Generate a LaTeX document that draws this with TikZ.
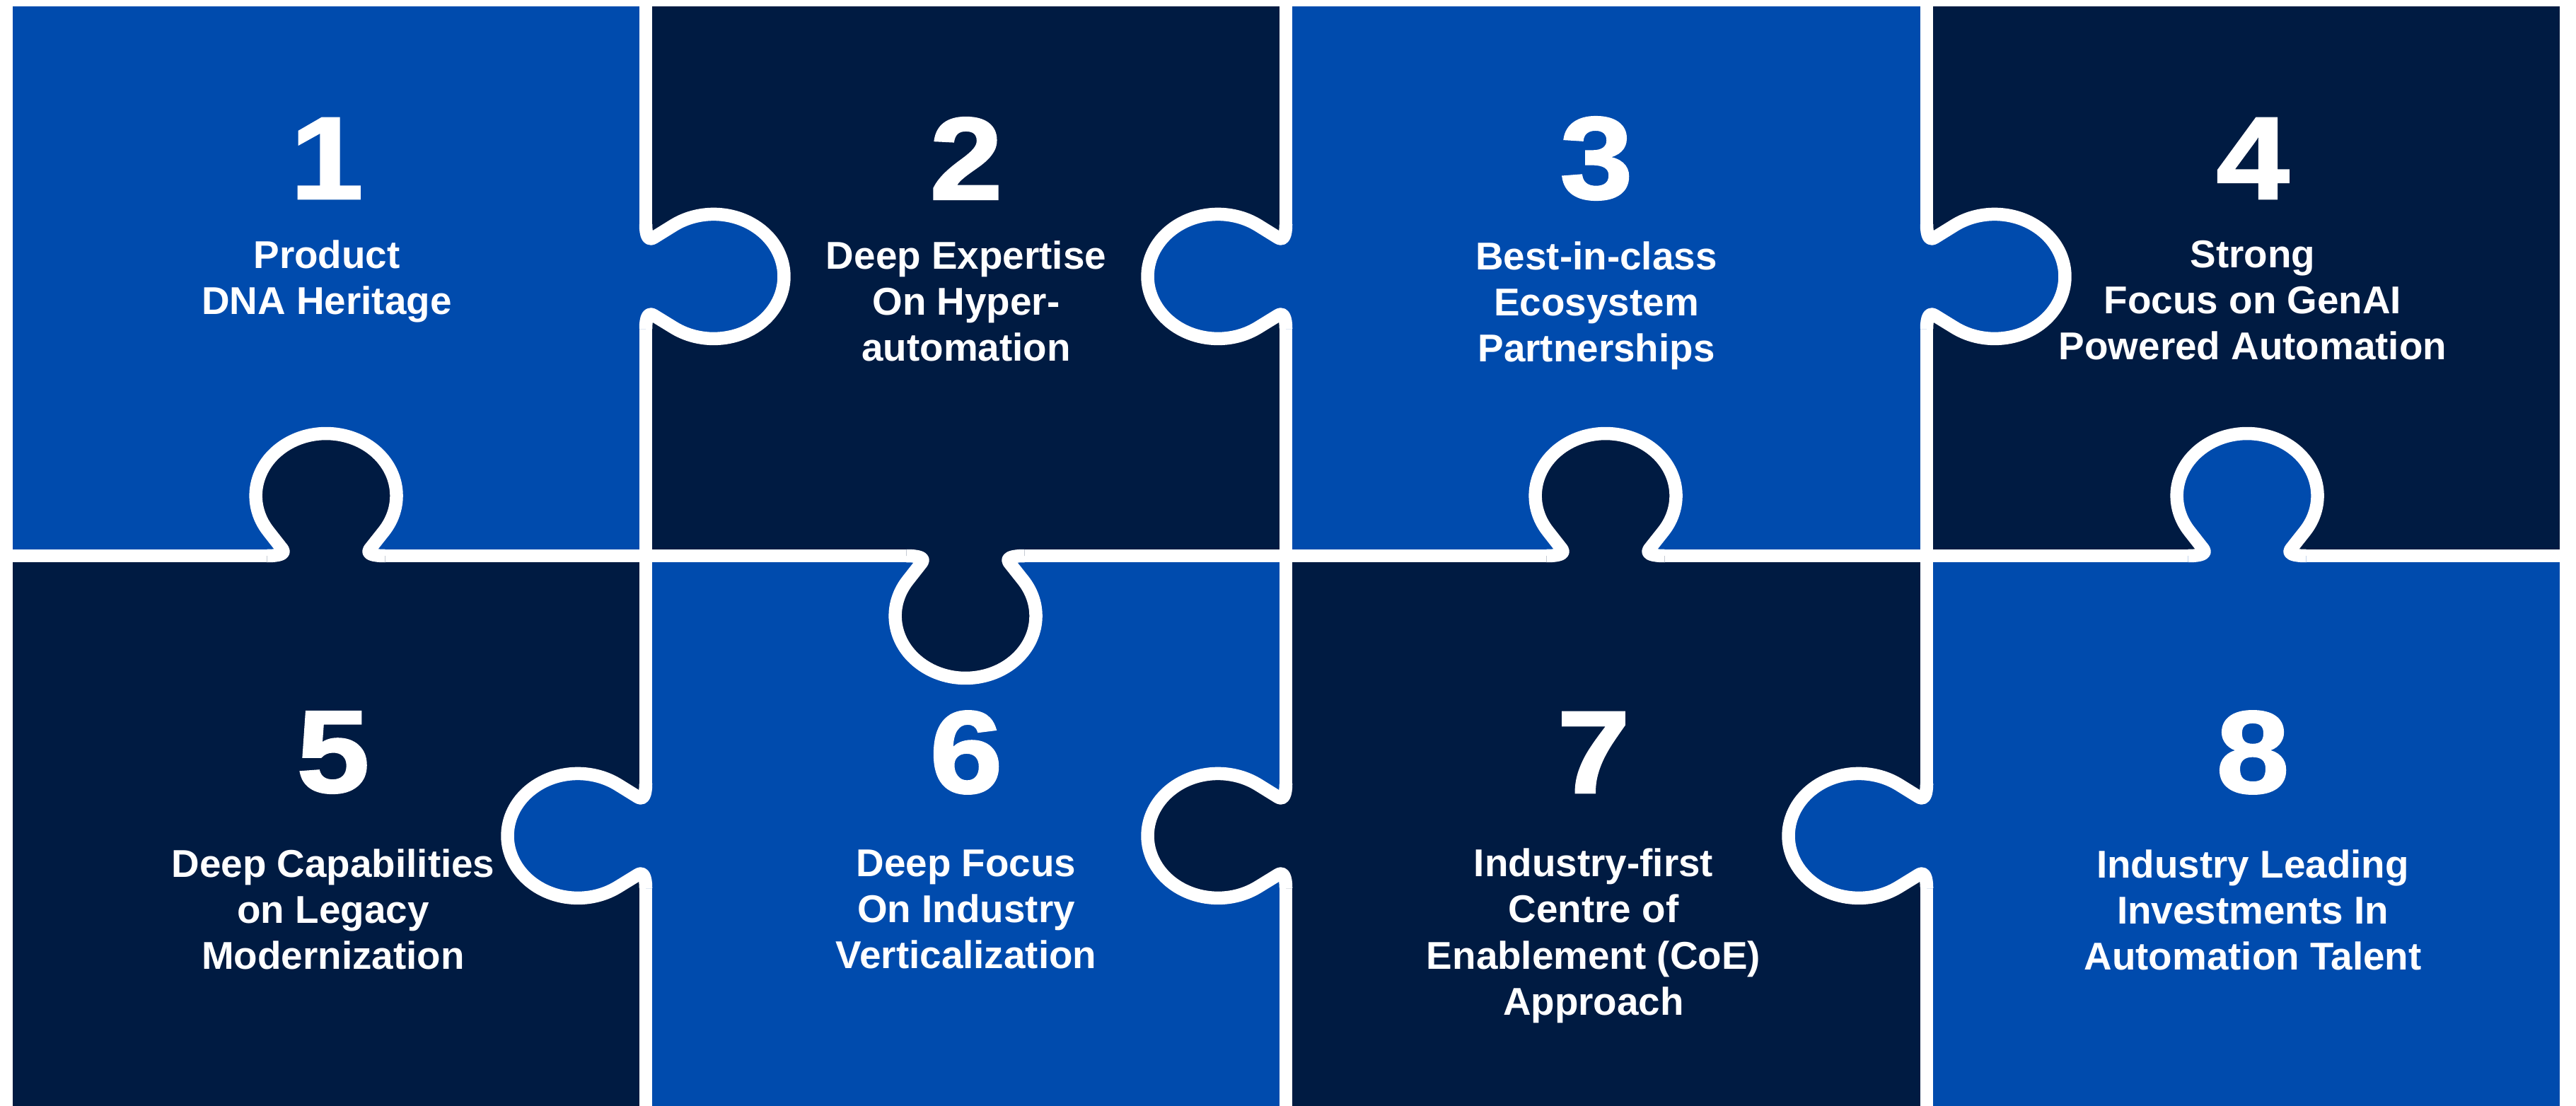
\documentclass[tikz,border=0pt]{standalone}
\usepackage{fontspec}
\setmainfont{Liberation Sans}
\newfontfamily\digitfont{Liberation Sans}[BoldFeatures={FakeBold=1.8,FakeStretch=1.12}]
\usetikzlibrary{positioning}
\definecolor{puzzleblue}{RGB}{0,75,173}
\definecolor{puzzlenavy}{RGB}{0,27,66}
\tikzset{
  cut/.style={draw=white,line width=0.185cm,line join=round},
  num/.style={text=white,inner sep=0pt,font=\digitfont\fontsize{47}{47}\selectfont\bfseries},
  lbl/.style={text=white,inner sep=0pt,align=center,font=\fontsize{15.6}{18.5}\selectfont\bfseries},
}
% one tab: t along the edge, n into the neighbour piece
\newcommand{\knobpath}{(-0.74,0) .. controls (-0.58,0) and (-0.50,0.03) .. (-0.55,0.1)
  -- (-0.72,0.345) arc[start angle=215,end angle=-35,radius=0.88]
  -- (0.55,0.1) .. controls (0.50,0.03) and (0.58,0) .. (0.74,0)}
\newcommand{\knob}[3]{%
  \begin{scope}[cm={#3,(#2)}]
    \fill[#1] (-0.74,-0.15) -- \knobpath -- (0.74,-0.15) -- cycle;
    \draw[cut] \knobpath;
  \end{scope}}

\begin{document}
\begin{tikzpicture}
    \useasboundingbox (0,0) rectangle (36.42,15.63);
    \clip (0,0) rectangle (36.42,15.63);

    % pieces
    \fill[puzzleblue] (0.18,7.77) rectangle (9.13,15.54);
    \fill[puzzlenavy] (9.13,7.77) rectangle (18.18,15.54);
    \fill[puzzleblue] (18.18,7.77) rectangle (27.24,15.54);
    \fill[puzzlenavy] (27.24,7.77) rectangle (36.19,15.54);
    \fill[puzzlenavy] (0.18,-0.2) rectangle (9.13,7.77);
    \fill[puzzleblue] (9.13,-0.2) rectangle (18.18,7.77);
    \fill[puzzlenavy] (18.18,-0.2) rectangle (27.24,7.77);
    \fill[puzzleblue] (27.24,-0.2) rectangle (36.19,7.77);

    % cuts
    \draw[cut] (0.18,7.77) -- (36.19,7.77);
    \draw[cut] (9.13,-0.2) -- (9.13,15.54)
               (18.18,-0.2) -- (18.18,15.54)
               (27.24,-0.2) -- (27.24,15.54);

    % tabs
    \knob{puzzleblue}{9.13,11.72}{0,1,1.13,0}
    \knob{puzzleblue}{18.18,11.72}{0,1,-1.13,0}
    \knob{puzzleblue}{27.24,11.72}{0,1,1.13,0}
    \knob{puzzlenavy}{4.61,7.77}{1.13,0,0,1}
    \knob{puzzlenavy}{13.65,7.77}{1.13,0,0,-1}
    \knob{puzzlenavy}{22.70,7.77}{1.13,0,0,1}
    \knob{puzzleblue}{31.77,7.77}{1.13,0,0,1}
    \knob{puzzleblue}{9.13,3.81}{0,1,-1.13,0}
    \knob{puzzlenavy}{18.18,3.81}{0,1,-1.13,0}
    \knob{puzzleblue}{27.24,3.81}{0,1,-1.13,0}

    % top row
    \node[num] (n1) at (4.62,13.39) {1};
    \node[lbl,below=0.58cm of n1] (t1) {Product\\DNA Heritage};
    \node[num] (n2) at (13.66,13.39) {2};
    \node[lbl,below=0.58cm of n2] (t2) {Deep Expertise\\On Hyper-\\automation};
    \node[num] (n3) at (22.57,13.39) {3};
    \node[lbl,below=0.58cm of n3] (t3) {Best-in-class\\Ecosystem\\Partnerships};
    \node[num] (n4) at (31.85,13.39) {4};
    \node[lbl,below=0.58cm of n4] (t4) {Strong\\Focus on GenAI\\Powered Automation};

    % bottom row
    \node[num] (n5) at (4.71,4.99) {5};
    \node[lbl,below=0.78cm of n5] (t5) {Deep Capabilities\\on Legacy\\Modernization};
    \node[num] (n6) at (13.66,4.99) {6};
    \node[lbl,below=0.78cm of n6] (t6) {Deep Focus\\On Industry\\Verticalization};
    \node[num] (n7) at (22.53,4.99) {7};
    \node[lbl,below=0.78cm of n7] (t7) {Industry-first\\Centre of\\Enablement (CoE)\\Approach};
    \node[num] (n8) at (31.85,4.99) {8};
    \node[lbl,below=0.78cm of n8] (t8) {Industry Leading\\Investments In\\Automation Talent};
\end{tikzpicture}
\end{document}
